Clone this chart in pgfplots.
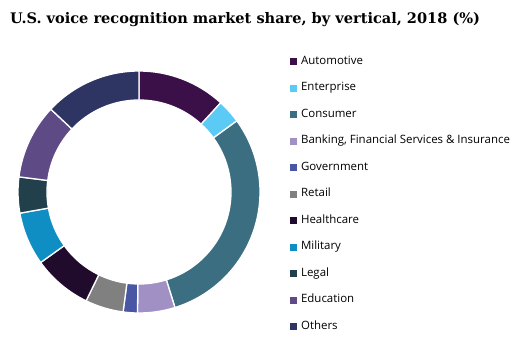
\documentclass[border=0pt]{standalone}
\usepackage{pgfplots}
\pgfplotsset{compat=1.18}
\usepackage{fontspec}
\setmainfont{Open Sans}
\newfontfamily\titlefont{DejaVu Serif}
\definecolor{cAuto}{HTML}{3B1049}
\definecolor{cEnt}{HTML}{5BCBF5}
\definecolor{cCons}{HTML}{3C6E82}
\definecolor{cBank}{HTML}{A190C4}
\definecolor{cGov}{HTML}{4856A3}
\definecolor{cRet}{HTML}{808080}
\definecolor{cHealth}{HTML}{200B2C}
\definecolor{cMil}{HTML}{0E8EC2}
\definecolor{cLegal}{HTML}{22404B}
\definecolor{cEdu}{HTML}{5E4A85}
\definecolor{cOth}{HTML}{2E3563}
% share (%) / colour
\def\slices{11.8/cAuto,3.2/cEnt,30.2/cCons,5.0/cBank,1.9/cGov,5.1/cRet,7.9/cHealth,7.1/cMil,4.8/cLegal,10.0/cEdu,13.0/cOth}
\begin{document}
\begin{tikzpicture}
\begin{axis}[
  x=1bp, y=1bp, xmin=0, xmax=517, ymin=0, ymax=345,
  scale only axis, hide axis, clip=false,
  legend image code/.code={\fill[#1] (0bp,-3bp) rectangle (6bp,3bp);},
  legend style={draw=none, fill=none, at={(axis cs:290,290.5)}, anchor=north west,
    font=\fontsize{11.5}{13}\selectfont, row sep=13.5bp, inner sep=0pt,
    nodes={text height=8.5bp, text depth=2.5bp, inner sep=1bp},
    /tikz/every odd column/.append style={column sep=3.5bp}},
  legend cell align=left,
]
\path (axis cs:0,0) rectangle (axis cs:517,345);
\xdef\cum{0}
\foreach \v/\c in \slices {
  \pgfmathsetmacro\aa{90-3.6*\cum}
  \pgfmathsetmacro\nc{\cum+\v}
  \xdef\cum{\nc}
  \pgfmathsetmacro\ab{90-3.6*\cum}
  \edef\tmp{\noexpand\fill[\c, draw=white, line width=1.3bp]
    ([shift={(\aa:121bp)}]axis cs:139,153) arc[start angle=\aa, end angle=\ab, radius=121bp]
    -- ([shift={(\ab:92bp)}]axis cs:139,153) arc[start angle=\ab, end angle=\aa, radius=92bp] -- cycle;}
  \tmp
}
\node[anchor=base west, inner sep=0pt, font=\titlefont\bfseries\fontsize{14.6}{18}\selectfont] at (axis cs:10,322) {U.S. voice recognition market share, by vertical, 2018 (\%)};
\addlegendimage{cAuto}\addlegendentry{Automotive}
\addlegendimage{cEnt}\addlegendentry{Enterprise}
\addlegendimage{cCons}\addlegendentry{Consumer}
\addlegendimage{cBank}\addlegendentry{Banking, Financial Services \& Insurance}
\addlegendimage{cGov}\addlegendentry{Government}
\addlegendimage{cRet}\addlegendentry{Retail}
\addlegendimage{cHealth}\addlegendentry{Healthcare}
\addlegendimage{cMil}\addlegendentry{Military}
\addlegendimage{cLegal}\addlegendentry{Legal}
\addlegendimage{cEdu}\addlegendentry{Education}
\addlegendimage{cOth}\addlegendentry{Others}
\end{axis}
\end{tikzpicture}
\end{document}
